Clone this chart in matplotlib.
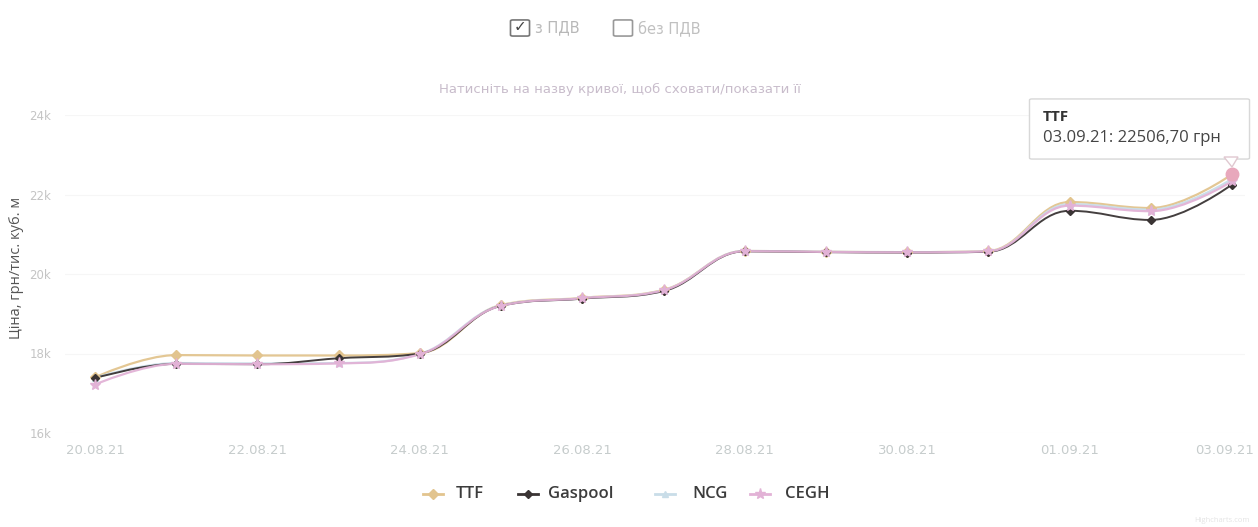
import matplotlib
matplotlib.use("Agg")
import matplotlib.pyplot as plt
import matplotlib.transforms as mtransforms
from matplotlib.path import Path
from matplotlib.patches import PathPatch, FancyBboxPatch, Polygon
from matplotlib.lines import Line2D

plt.rcParams['font.family'] = ['Open Sans', 'DejaVu Sans']

dates = ['20.08.21', '21.08.21', '22.08.21', '23.08.21', '24.08.21', '25.08.21', '26.08.21',
         '27.08.21', '28.08.21', '29.08.21', '30.08.21', '31.08.21', '01.09.21', '02.09.21', '03.09.21']
tick_labels = ['20.08.21', '22.08.21', '24.08.21', '26.08.21', '28.08.21', '30.08.21', '01.09.21', '03.09.21']
ttf = [17400, 17960, 17950, 17950, 18010, 19220, 19400, 19600, 20580, 20560, 20550, 20580, 21810, 21660, 22506.7]
gaspool = [17380, 17740, 17730, 17880, 18000, 19200, 19380, 19570, 20570, 20550, 20540, 20560, 21590, 21360, 22250]
ncg = [17390, 17760, 17750, 17760, 17990, 19210, 19390, 19590, 20580, 20560, 20550, 20570, 21760, 21620, 22390]
cegh = [17220, 17740, 17730, 17750, 17980, 19200, 19390, 19590, 20575, 20555, 20545, 20570, 21720, 21580, 22330]
series_names = ['TTF', 'Gaspool', 'NCG', 'CEGH']
y_ticks = [16000, 18000, 20000, 22000, 24000]
y_tick_labels = ['16k', '18k', '20k', '22k', '24k']

colors = {'TTF': '#e2c48e', 'Gaspool': '#3a3434', 'NCG': '#c9dde8', 'CEGH': '#e2b2d6'}
markers = {'TTF': 'D', 'Gaspool': 'D', 'NCG': '^', 'CEGH': '*'}
msizes = {'TTF': 5, 'Gaspool': 4, 'NCG': 5, 'CEGH': 8}
data = {'TTF': ttf, 'Gaspool': gaspool, 'NCG': ncg, 'CEGH': cegh}

W, H = 1258, 527
fig = plt.figure(figsize=(W / 100, H / 100), dpi=100)
fig.patch.set_facecolor('white')

def fx(px):
    return px / W

def fy(py):
    return 1 - py / H

ax = fig.add_axes([fx(65), fy(433), fx(1245) - fx(65), fy(115) - fy(433)])
ppu = (1232 - 95) / 14.0
ax.set_xlim(0 - (95 - 65) / ppu, 14 + (1245 - 1232) / ppu)
ax.set_ylim(16000, 24000)
for s in ax.spines.values():
    s.set_visible(False)
ax.set_yticks(y_ticks)
ax.set_yticklabels(y_tick_labels, color='#c4c4c4', fontsize=8.5, family='DejaVu Sans')
ax.tick_params(axis='y', length=0, pad=10)
xpos = list(range(len(dates)))
ax.set_xticks([dates.index(d) for d in tick_labels])
ax.set_xticklabels(tick_labels, color='#c6cccc', fontsize=9.5, family='DejaVu Sans')
ax.tick_params(axis='x', length=0, pad=8)
last = ax.get_xticklabels()[-1]
last.set_transform(last.get_transform() + mtransforms.ScaledTranslation(-7 / 100, 0, fig.dpi_scale_trans))
for yt in y_ticks:
    ax.axhline(yt, color='#f6f6f6', lw=0.8, zorder=0)


def spline_path(xs, ys, smoothing=1.5):
    n = len(xs)
    denom = smoothing + 1
    lc = [(x, y) for x, y in zip(xs, ys)]
    rc = [(x, y) for x, y in zip(xs, ys)]
    for i in range(1, n - 1):
        px, py = xs[i], ys[i]
        lx, ly = xs[i - 1], ys[i - 1]
        nx, ny = xs[i + 1], ys[i + 1]
        lcx = (smoothing * px + lx) / denom
        lcy = (smoothing * py + ly) / denom
        rcx = (smoothing * px + nx) / denom
        rcy = (smoothing * py + ny) / denom
        if rcx != lcx:
            corr = ((rcy - lcy) * (rcx - px)) / (rcx - lcx) + py - rcy
            lcy += corr
            rcy += corr
        if lcy > ly and lcy > py:
            lcy = max(ly, py); rcy = 2 * py - lcy
        elif lcy < ly and lcy < py:
            lcy = min(ly, py); rcy = 2 * py - lcy
        if rcy > ny and rcy > py:
            rcy = max(ny, py); lcy = 2 * py - rcy
        elif rcy < ny and rcy < py:
            rcy = min(ny, py); lcy = 2 * py - rcy
        lc[i] = (lcx, lcy)
        rc[i] = (rcx, rcy)
    verts = [(xs[0], ys[0])]
    codes = [Path.MOVETO]
    for i in range(1, n):
        verts += [rc[i - 1], lc[i], (xs[i], ys[i])]
        codes += [Path.CURVE4] * 3
    return Path(verts, codes)

order = ['TTF', 'NCG', 'Gaspool', 'CEGH']
for k, name in enumerate(order):
    vals = data[name]
    lw = 1.4 if name == 'Gaspool' else 1.6
    patch = PathPatch(spline_path(xpos, vals), fill=False, edgecolor=colors[name], lw=lw,
                      zorder=2 + k, alpha=0.95)
    ax.add_patch(patch)
    ax.plot(xpos, vals, linestyle='none', marker=markers[name], ms=msizes[name],
            color=colors[name], zorder=6 + k)

ax.plot([14], [ttf[-1]], marker='o', ms=9, color='#e8a8bc', zorder=12)
fig.text(fx(17), fy(268), 'Ціна, грн/тис. куб. м', color='#555555', fontsize=10.5,
         rotation=90, ha='center', va='center')

# top checkboxes
cb = FancyBboxPatch((fx(513), fy(35)), fx(14), fy(21) - fy(35), boxstyle='round,pad=0.002',
                    transform=fig.transFigure, fill=False, edgecolor='#777777', lw=1.2)
fig.add_artist(cb)
fig.text(fx(520), fy(27), '✓', fontsize=11, color='#444444', ha='center', va='center',
         family='DejaVu Sans')
fig.text(fx(535), fy(28), 'з ПДВ', fontsize=10.5, color='#b8b8b8', va='center',
         family='DejaVu Sans')
cb2 = FancyBboxPatch((fx(616), fy(35)), fx(14), fy(21) - fy(35), boxstyle='round,pad=0.002',
                     transform=fig.transFigure, fill=False, edgecolor='#999999', lw=1.2)
fig.add_artist(cb2)
fig.text(fx(638), fy(28), 'без ПДВ', fontsize=10.5, color='#c0c0c0', va='center',
         family='DejaVu Sans')

fig.text(fx(620), fy(89), 'Натисніть на назву кривої, щоб сховати/показати її', fontsize=9.5,
         color='#c8bccb', ha='center', va='center', family='DejaVu Sans')

# legend
leg_items = [('TTF', 433, 456), ('Gaspool', 528, 548), ('NCG', 665, 692), ('CEGH', 760, 785)]
for name, mx, tx in leg_items:
    fig.add_artist(Line2D([fx(mx - 10), fx(mx + 10)], [fy(494), fy(494)], color=colors[name],
                          lw=2, transform=fig.transFigure))
    fig.add_artist(Line2D([fx(mx)], [fy(494)], marker=markers[name], ms=msizes[name],
                          color=colors[name], linestyle='none', transform=fig.transFigure))
    fig.text(fx(tx), fy(494), name, fontsize=12, color='#3c3c3c', va='center',
             fontweight='semibold')

# tooltip
tip = FancyBboxPatch((fx(1032), fy(158)), fx(1247) - fx(1032), fy(100) - fy(158),
                     boxstyle='round,pad=0.002', transform=fig.transFigure,
                     facecolor='white', edgecolor='#d8d8d8', lw=1, zorder=20)
fig.add_artist(tip)
ptr = Polygon([(fx(1224), fy(157)), (fx(1238), fy(157)), (fx(1232), fy(167))], closed=True,
              transform=fig.transFigure, facecolor='white', edgecolor='#e0c8d0', lw=1, zorder=21)
fig.add_artist(ptr)
fig.text(fx(1043), fy(117), 'TTF', fontsize=11, color='#333333', fontweight='bold', va='center',
         zorder=22)
fig.text(fx(1043), fy(138), '03.09.21: 22506,70 грн', fontsize=12, color='#444444',
         va='center', zorder=22)

fig.text(fx(1250), fy(520), 'Highcharts.com', fontsize=5.5, color='#e4e4e4', ha='right',
         va='center')

fig.savefig('out.png', dpi=100, facecolor='white')
